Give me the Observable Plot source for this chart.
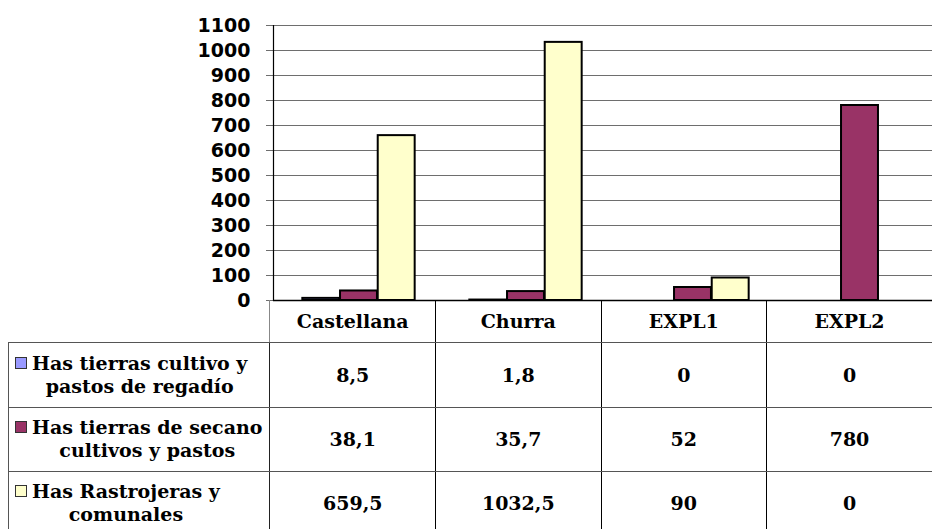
<!DOCTYPE html>
<html><head><meta charset="utf-8">
<script src="https://cdn.jsdelivr.net/npm/d3@7"></script>
<script src="https://cdn.jsdelivr.net/npm/@observablehq/plot@0.6"></script>
<style>
html,body{margin:0;padding:0;background:#fff;overflow:hidden}
#wrap{position:relative;width:932px;height:529px;overflow:hidden;background:#fff}
#chart{position:absolute;left:0;top:0}
#tbl{position:absolute;left:8px;top:300px;border-collapse:collapse;table-layout:fixed;font-family:"DejaVu Serif",serif;font-weight:bold;font-size:19px;color:#000}
#tbl td{padding:0;text-align:center;vertical-align:middle;box-sizing:border-box}
#tbl tr.head td{height:42px;border-bottom:1px solid #555;border-left:1px solid #000}
#tbl tr.head td.blank{border-left:none}
#tbl tr.head td.c0{border-left:1px solid #888}
#tbl tr.body td{border-bottom:1px solid #555;border-left:1px solid #000}
#tbl tr.body td.lab{border-left:1px solid #555;text-align:left;padding-left:6px;line-height:23px}
#tbl tr.body td.c0{border-left:1px solid #222}
.key{display:inline-block;width:10px;height:10px;border:1px solid #333;vertical-align:top;margin-top:5px;margin-right:5px}
.lt{display:inline-block;text-align:center;vertical-align:top}
</style>
</head><body>
<div id="wrap"><div id="chart"></div></div>
<script>
const categories = ["Castellana", "Churra", "EXPL1", "EXPL2"];
const seriesNames = ["Has tierras cultivo y pastos de regadío", "Has tierras de secano cultivos y pastos", "Has Rastrojeras y comunales"];
const seriesLabelLines = [["Has tierras cultivo y", "pastos de regadío"], ["Has tierras de secano", "cultivos y pastos"], ["Has Rastrojeras y", "comunales"]];
const regadio = [8.5, 1.8, 0, 0];
const secano = [38.1, 35.7, 52, 780];
const rastrojeras = [659.5, 1032.5, 90, 0];
const seriesColors = ["#9999FF", "#993366", "#FFFFCC"];
const yTicks = [0, 100, 200, 300, 400, 500, 600, 700, 800, 900, 1000, 1100];

const seriesValues = [regadio, secano, rastrojeras];
const rows = seriesNames.flatMap((s, i) => categories.map((c, j) => ({cat: c, series: s, value: seriesValues[i][j]})));

const barW = 37.7;
const bandW = (944 - 273) / categories.length;
const inset = (bandW - barW) / 2;

const marks = [
  Plot.gridY(yTicks, {stroke: "#6e6e6e", strokeOpacity: 1, strokeWidth: 1}),
  Plot.axisY(yTicks, {tickSize: 7, tickPadding: 16, stroke: "#6e6e6e", fill: "#000", label: null, fontSize: 19, fontWeight: "bold", tickFormat: d => String(d)}),
  ...seriesNames.map((s, i) => Plot.barY(rows.filter(d => d.series === s && d.value > 0), {
    x: "cat", y: "value", fill: "series", stroke: "#000", strokeWidth: 2,
    insetLeft: inset, insetRight: inset, dx: (i - 1) * barW
  })),
  Plot.ruleY([0], {stroke: "#000", strokeWidth: 1.5}),
  Plot.frame({anchor: "left", stroke: "#000", strokeWidth: 1.2})
];

const chart = Plot.plot({
  width: 932, height: 320,
  marginLeft: 273, marginRight: 0, marginTop: 25, marginBottom: 20,
  style: {fontFamily: "DejaVu Sans", fontWeight: "bold", fontSize: "19px", color: "#000", background: "transparent"},
  x: {domain: categories, range: [273, 944], padding: 0, axis: null},
  y: {domain: [0, 1100], range: [300, 25], axis: null},
  color: {domain: seriesNames, range: seriesColors},
  marks
});
document.getElementById("chart").appendChild(chart);

// data table (legend + values) below the chart
const fmt = v => String(v).replace(".", ",");
const tbl = document.createElement("table");
tbl.id = "tbl";
const cg = document.createElement("colgroup");
[265, 167, 168, 168, 168].forEach(w => { const c = document.createElement("col"); c.style.width = w + "px"; cg.appendChild(c); });
tbl.appendChild(cg);
const head = document.createElement("tr");
head.className = "head";
head.innerHTML = `<td class="blank"></td>` + categories.map((c, j) => `<td class="c${j}">${c}</td>`).join("");
tbl.appendChild(head);
const rowHeights = [65, 64, 64];
seriesNames.forEach((s, i) => {
  const tr = document.createElement("tr");
  tr.className = "body";
  tr.style.height = rowHeights[i] + "px";
  tr.innerHTML = `<td class="lab"><span class="key" style="background:${seriesColors[i]}"></span><span class="lt">${seriesLabelLines[i].join("<br>")}</span></td>` +
    categories.map((c, j) => `<td class="c${j}">${fmt(seriesValues[i][j])}</td>`).join("");
  tbl.appendChild(tr);
});
document.getElementById("wrap").appendChild(tbl);
</script>
</body></html>
